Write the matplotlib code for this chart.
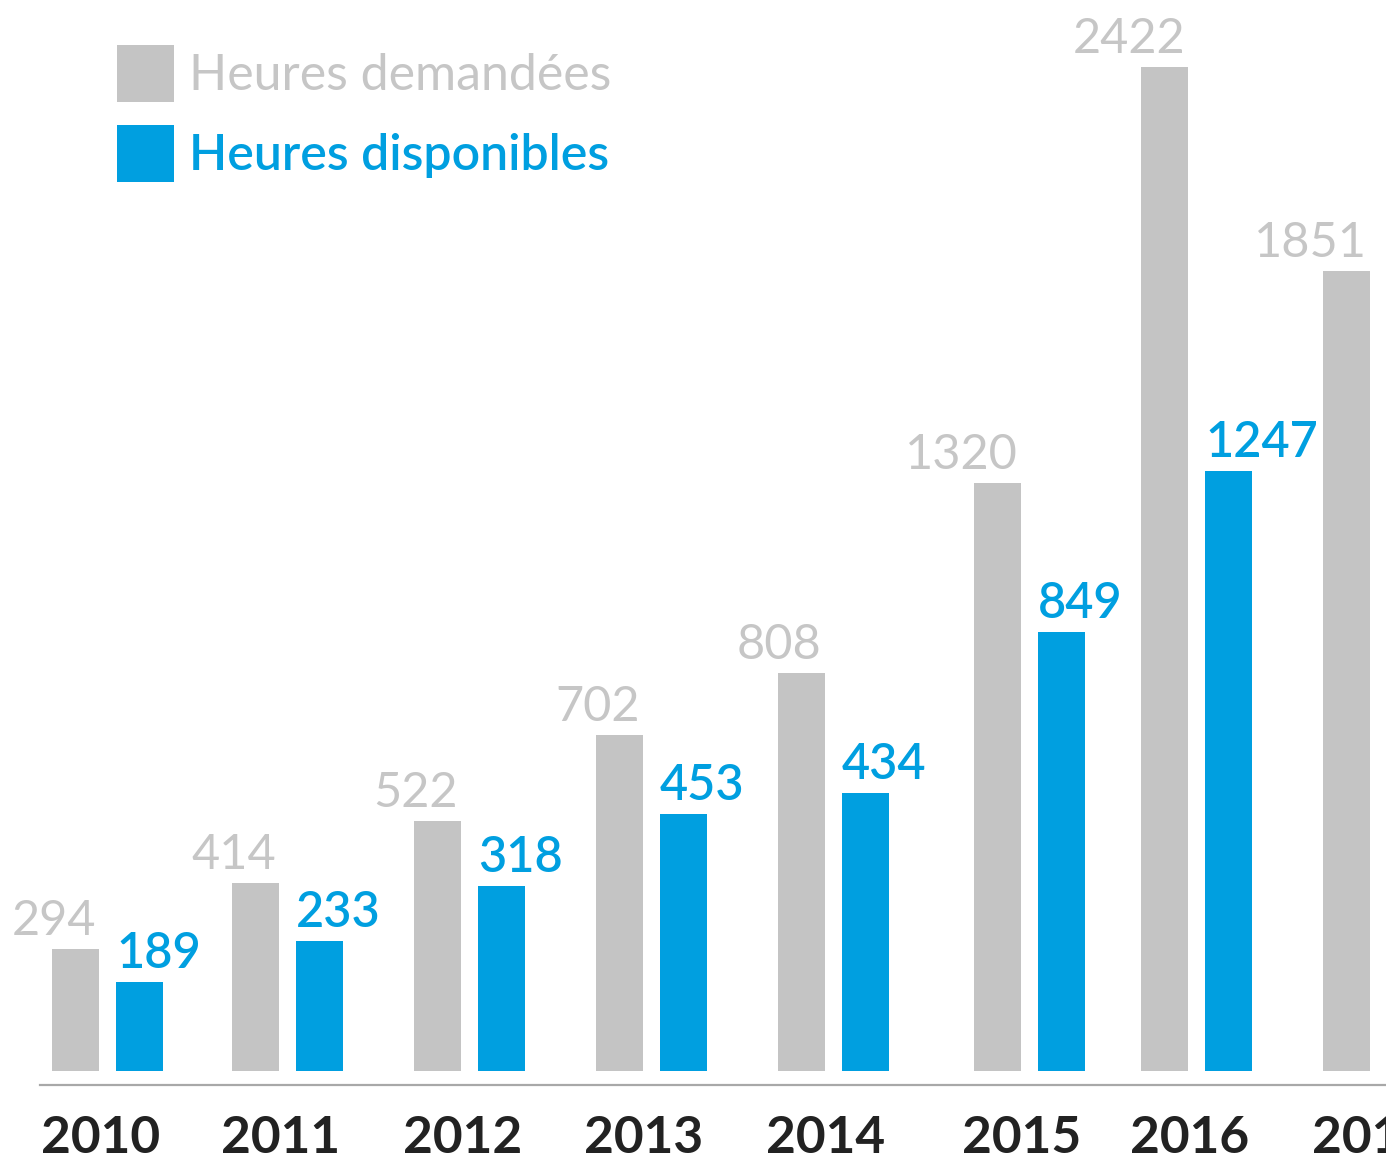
import matplotlib.pyplot as plt
import numpy as np

# Données
annees = ["2010", "2011", "2012", "2013", "2014", "2015", "2016", "2017"]
etiquettes_demandees = ["294", "414", "522", "702", "808", "1320", "2422", "1851"]
etiquettes_disponibles = ["189", "233", "318", "453", "434", "849", "1247", "1500"]
# hauteurs des barres telles que dessinées (l'original n'est pas à l'échelle des étiquettes)
hauteurs_demandees = [294, 454, 603, 811, 960, 1418, 2422, 1930]
hauteurs_disponibles = [215, 314, 446, 620, 671, 1059, 1447, 1660]

# mise en page (coordonnées en pixels de l'image)
centres = np.array([107.5, 287.5, 469.5, 651, 833, 1029, 1196.5, 1378.5])
largeur = 47
ecart = 32

GRIS = "#c4c4c4"
BLEU = "#009fe0"
POLICE = "Lato"

plt.rcParams['font.family'] = [POLICE, 'DejaVu Sans']

fig = plt.figure(figsize=(13.86, 11.63), dpi=100)
ax = fig.add_axes([0, 0, 1, 1])
ax.set_xlim(0, 1386)
ax.set_ylim(-222, 2584)

b1 = ax.bar(centres - ecart, hauteurs_demandees, width=largeur, color=GRIS,
            label="Heures demandées")
b2 = ax.bar(centres + ecart, hauteurs_disponibles, width=largeur, color=BLEU,
            label="Heures disponibles")

# étiquettes de valeurs
for x, h, t in zip(centres - ecart, hauteurs_demandees, etiquettes_demandees):
    ax.annotate(t, xy=(x + largeur / 2, h), xytext=(-3, 14), textcoords='offset pixels',
                ha='right', va='baseline', color="#c6c6c6", fontsize=35)
for x, h, t in zip(centres + ecart, hauteurs_disponibles, etiquettes_disponibles):
    ax.annotate(t, xy=(x - largeur / 2, h), xytext=(0, 14), textcoords='offset pixels',
                ha='left', va='baseline', color=BLEU, fontsize=35, fontweight='semibold')

# années
for x, a in zip(centres, annees):
    ax.annotate(a, xy=(x - 7, -222), xytext=(0, 1), textcoords='offset pixels',
                ha='center', va='bottom', color="#222222",
                fontsize=37, fontweight='bold')

# ligne de base
for s in ['top', 'left', 'right']:
    ax.spines[s].set_visible(False)
ax.spines['bottom'].set_position(('data', -34))
ax.spines['bottom'].set_bounds(40, 1386)
ax.spines['bottom'].set_color("#a8a8a8")
ax.spines['bottom'].set_linewidth(1.6)
ax.set_xticks([])
ax.set_yticks([])

leg = ax.legend(handles=[b1, b2], loc='upper left',
                bbox_to_anchor=(117 / 1386, 1 - 45 / 1163), bbox_transform=fig.transFigure,
                frameon=False, fontsize=36, handlelength=1.14, handleheight=1.38,
                handletextpad=0.3, labelspacing=0.45, borderpad=0, borderaxespad=0)
t1, t2 = leg.get_texts()
t1.set_color("#c6c6c6")
t2.set_color(BLEU)
t2.set_fontweight('semibold')

fig.savefig("out.png", dpi=100)
